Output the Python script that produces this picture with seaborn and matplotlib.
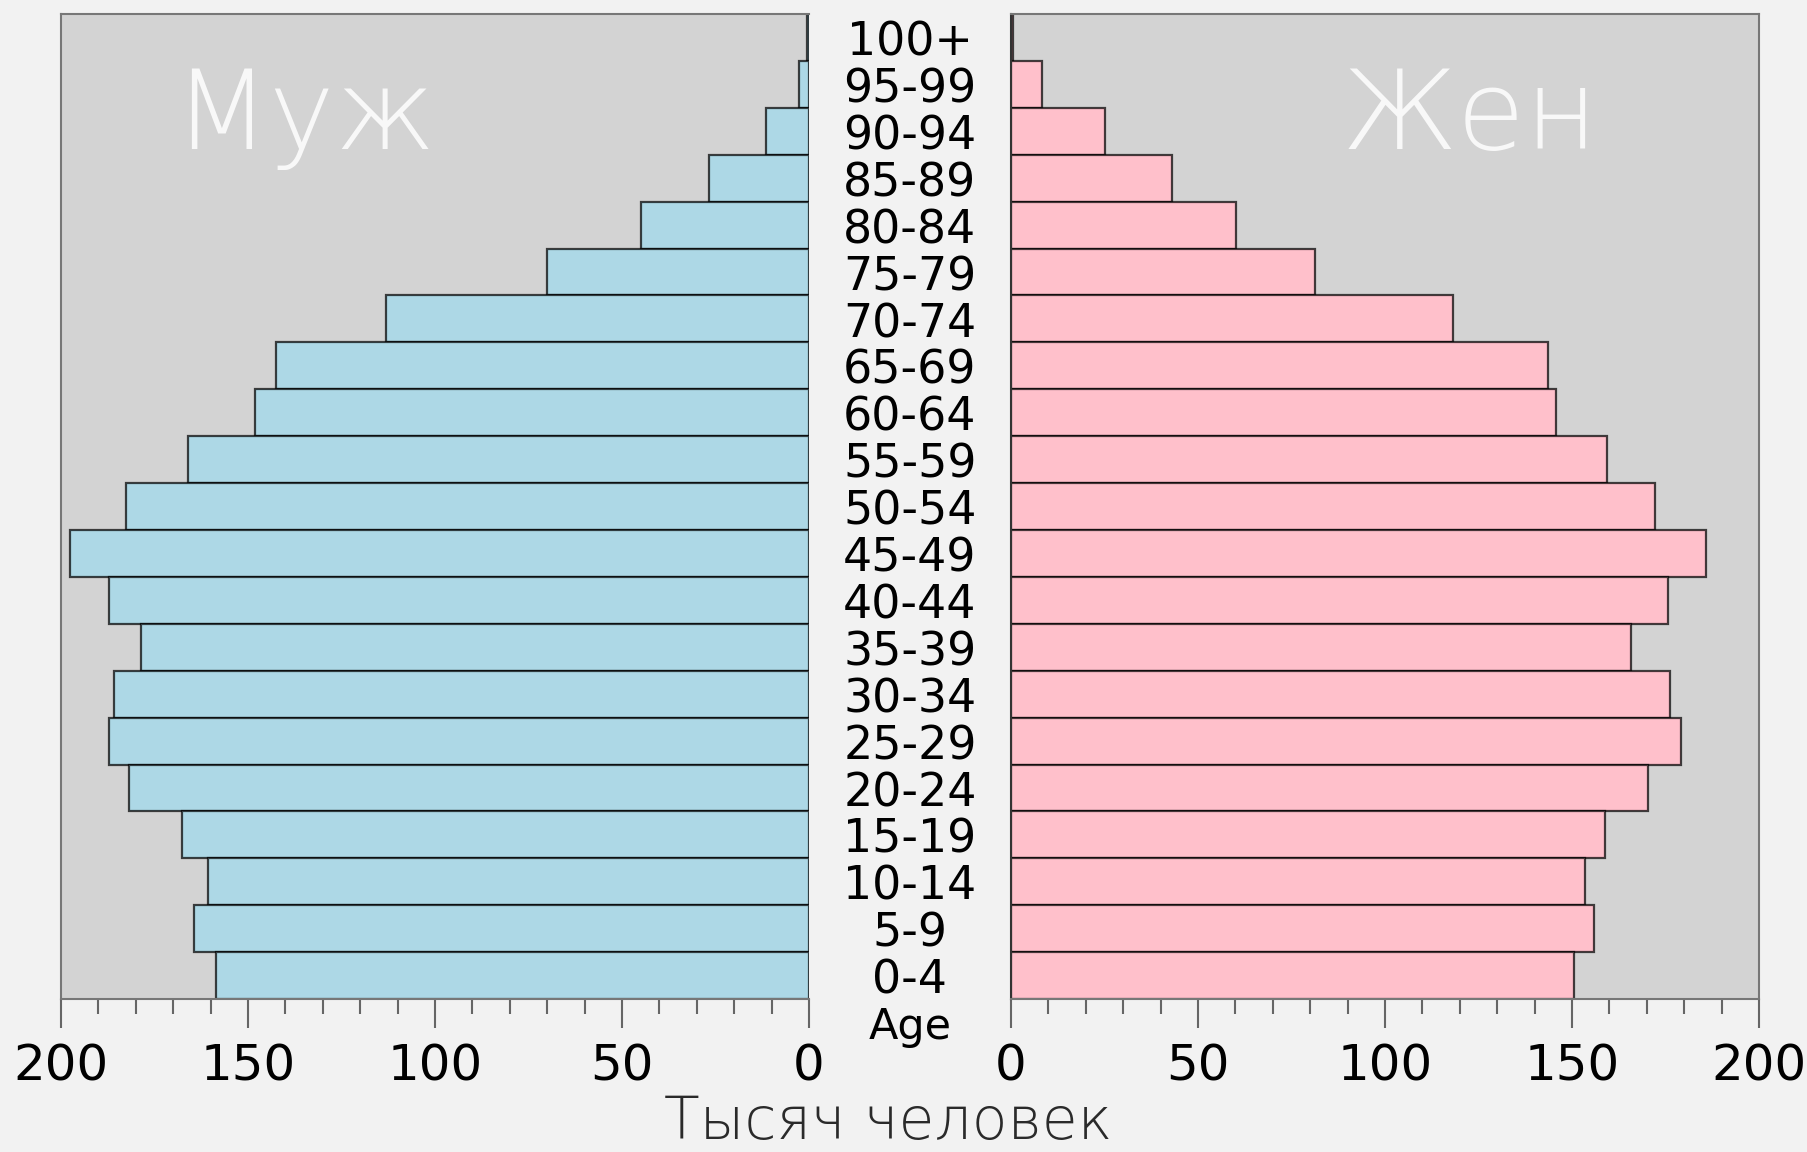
import numpy as np
import pandas as pd
import matplotlib
matplotlib.use('Agg')
import matplotlib.pyplot as plt
import matplotlib.transforms as mtransforms
from matplotlib.ticker import MultipleLocator
import seaborn as sns

# Возрастные группы (сверху вниз)
ages = ['100+', '95-99', '90-94', '85-89', '80-84', '75-79', '70-74',
        '65-69', '60-64', '55-59', '50-54', '45-49', '40-44', '35-39',
        '30-34', '25-29', '20-24', '15-19', '10-14', '5-9', '0-4']

# Тысяч человек
male = [0.5, 2.6, 11.6, 26.6, 45.0, 70.0, 113.1, 142.6, 148.0, 166.0,
        182.5, 197.7, 187.2, 178.7, 185.7, 187.2, 181.8, 167.5, 160.7,
        164.5, 158.5]
female = [0.4, 8.2, 25.2, 43.1, 60.2, 81.2, 118.2, 143.5, 145.7, 159.4,
          172.1, 185.8, 175.6, 165.9, 176.1, 179.2, 170.2, 158.8, 153.5,
          155.9, 150.5]

ticks = [0, 50, 100, 150, 200]

df = pd.DataFrame({'age': ages, 'male': male, 'female': female})

bg = '#f2f2f2'
panel = '#d3d3d3'
edge = (0, 0, 0, 0.72)

fig = plt.figure(figsize=(18.08, 11.52), dpi=100, facecolor=bg)
ax_m = fig.add_axes([0.0337, 0.1328, 0.4137, 0.855])
ax_f = fig.add_axes([0.5592, 0.1328, 0.4137, 0.855])

sns.barplot(data=df, x='male', y='age', order=ages, ax=ax_m,
            color='#add8e6', saturation=1, width=1.0,
            edgecolor=edge, linewidth=1.6)
sns.barplot(data=df, x='female', y='age', order=ages, ax=ax_f,
            color='#ffc0cb', saturation=1, width=1.0,
            edgecolor=edge, linewidth=1.6)

ax_m.set_xlim(200, 0)
ax_f.set_xlim(0, 200)

for ax in (ax_m, ax_f):
    ax.set_facecolor(panel)
    ax.set_ylim(len(ages) - 0.5, -0.5)
    ax.set_yticks([])
    ax.set_xlabel('')
    ax.set_ylabel('')
    ax.set_xticks(ticks)
    ax.set_xticklabels([str(t) for t in ticks])
    ax.xaxis.set_minor_locator(MultipleLocator(10))
    ax.tick_params(axis='x', which='major', length=21, width=1.5,
                   color='#666666', labelsize=36, pad=10)
    ax.tick_params(axis='x', which='minor', length=11, width=1.5,
                   color='#666666')
    for s in ax.spines.values():
        s.set_color('#777777')
        s.set_linewidth(1.5)
    ax.set_axisbelow(True)

ax_m.spines['right'].set_visible(False)
ax_f.spines['left'].set_color('#333333')

# Возрастные подписи между панелями
trans = mtransforms.blended_transform_factory(fig.transFigure, ax_f.transData)
for i, a in enumerate(ages):
    ax_f.text(0.5033, i + 0.12, a, transform=trans, ha='center',
              va='center', fontsize=33, color='black', clip_on=False)

fig.text(0.5033, 0.1085, 'Age', ha='center', va='center', fontsize=31,
         color='black')

light = dict(family='DejaVu Sans', weight='light')
ax_m.text(0.325, 0.894, 'Муж', transform=ax_m.transAxes, ha='center',
          va='center', fontsize=80, color='white', alpha=0.85,
          fontdict=light)
ax_f.text(0.6133, 0.894, 'Жен', transform=ax_f.transAxes, ha='center',
          va='center', fontsize=80, color='white', alpha=0.85,
          fontdict=light)

fig.text(0.491, 0.0252, 'Тысяч человек', ha='center', va='center',
         fontsize=42, color='#2a2a2a', fontdict=light)

fig.savefig('out.png', dpi=100, facecolor=bg)
